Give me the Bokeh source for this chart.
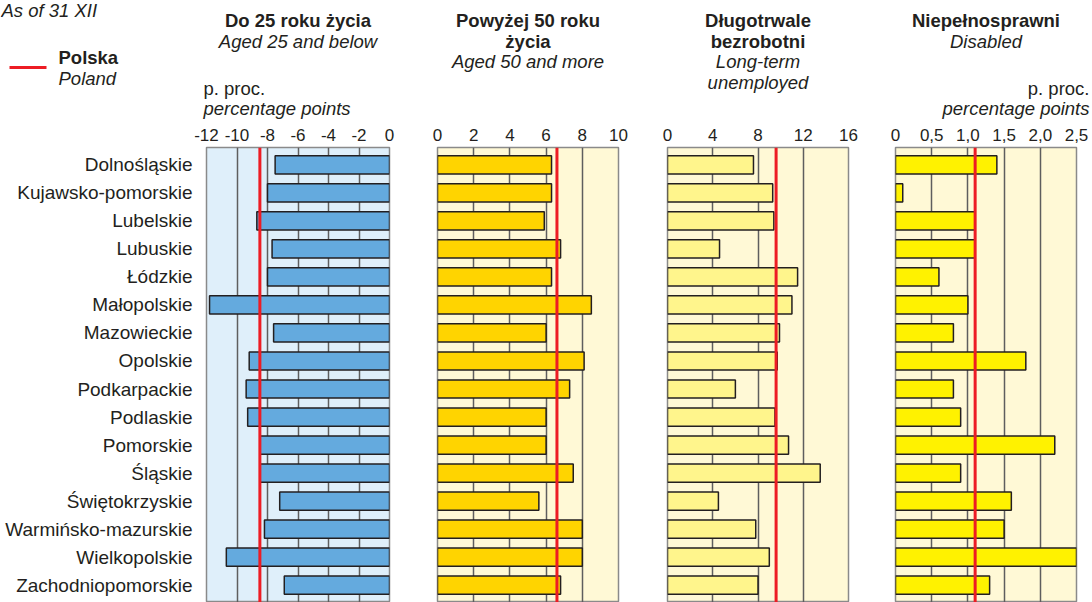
from bokeh.plotting import figure
from bokeh.models import Range1d, FactorRange, FixedTicker, Span, Label
from bokeh.layouts import row, column
from bokeh.embed import file_html
from bokeh.resources import INLINE

# ---------------- data ----------------
regions = ["Dolnośląskie", "Kujawsko-pomorskie", "Lubelskie", "Lubuskie", "Łódzkie",
           "Małopolskie", "Mazowieckie", "Opolskie", "Podkarpackie", "Podlaskie",
           "Pomorskie", "Śląskie", "Świętokrzyskie", "Warmińsko-mazurskie",
           "Wielkopolskie", "Zachodniopomorskie"]
aged_25_below = [-7.5, -8.0, -8.7, -7.7, -8.0, -11.8, -7.6, -9.2, -9.4, -9.3,
                 -8.5, -8.5, -7.2, -8.2, -10.7, -6.9]
aged_50_more = [6.3, 6.3, 5.9, 6.8, 6.3, 8.5, 6.0, 8.1, 7.3, 6.0,
                6.0, 7.5, 5.6, 8.0, 8.0, 6.8]
long_term = [7.6, 9.3, 9.4, 4.6, 11.5, 11.0, 9.9, 9.7, 6.0, 9.5,
             10.7, 13.5, 4.5, 7.8, 9.0, 8.0]
disabled = [1.4, 0.1, 1.1, 1.1, 0.6, 1.0, 0.8, 1.8, 0.8, 0.9,
            2.2, 0.9, 1.6, 1.5, 2.5, 1.3]
poland = [-8.5, 6.6, 9.6, 1.1]

ticks_1 = [-12, -10, -8, -6, -4, -2, 0]
tick_labels_1 = ["-12", "-10", "-8", "-6", "-4", "-2", "0"]
ticks_2 = [0, 2, 4, 6, 8, 10]
tick_labels_2 = ["0", "2", "4", "6", "8", "10"]
ticks_3 = [0, 4, 8, 12, 16]
tick_labels_3 = ["0", "4", "8", "12", "16"]
ticks_4 = [0, 0.5, 1.0, 1.5, 2.0, 2.5]
tick_labels_4 = ["0", "0,5", "1,0", "1,5", "2,0", "2,5"]

titles_bold = [["Do 25 roku życia"], ["Powyżej 50 roku", "życia"],
               ["Długotrwale", "bezrobotni"], ["Niepełnosprawni"]]
titles_italic = [["Aged 25 and below"], ["Aged 50 and more"],
                 ["Long-term", "unemployed"], ["Disabled"]]

# ---------------- style / geometry ----------------
FONT = "Liberation Sans"
INK = "#231f20"
RED = "#ed1c24"
HEADER_H = 120
FRAME_TOP = 147
FRAME_H = 455
LINE = 20.7
TEXT_SIZE = "18.5px"

# (figure left on page, border left, frame width, border right)
geo = [(0, 206, 183, 24), (413, 24, 181, 24), (642, 25, 181, 24), (872, 23, 181, 16)]


def make_panel(xr, ticks, labels, bg, with_labels, g):
    _, bl, fw, br = g
    p = figure(
        y_range=FactorRange(factors=list(reversed(regions)), range_padding=0.12,
                            range_padding_units="absolute"),
        x_range=Range1d(*xr),
        frame_width=fw, frame_height=FRAME_H,
        min_border_left=bl, min_border_right=br,
        min_border_top=FRAME_TOP - HEADER_H, min_border_bottom=0,
        x_axis_location="above",
        y_axis_location="left" if with_labels else None,
        output_backend="svg", toolbar_location=None,
        background_fill_color=bg, border_fill_color="white",
    )
    p.outline_line_color = "#8a8a8a"
    p.outline_line_width = 1.5
    ax = p.xaxis[0]
    ax.ticker = FixedTicker(ticks=ticks)
    ax.major_label_overrides = dict(zip(ticks, labels))
    ax.axis_line_color = None
    ax.major_tick_line_color = None
    ax.minor_tick_line_color = None
    ax.major_tick_out = 0
    ax.major_tick_in = 0
    ax.major_label_standoff = 7
    ax.major_label_text_font = FONT
    ax.major_label_text_font_size = "17px"
    ax.major_label_text_color = INK
    p.xgrid.ticker = FixedTicker(ticks=ticks)
    p.xgrid.grid_line_color = "#5e5e5e"
    p.xgrid.grid_line_width = 1.5
    p.ygrid.visible = False
    if with_labels:
        ya = p.yaxis[0]
        ya.axis_line_color = None
        ya.major_tick_line_color = None
        ya.major_tick_out = 0
        ya.major_tick_in = 0
        ya.major_label_standoff = 14
        ya.major_label_text_font = FONT
        ya.major_label_text_font_size = "19px"
        ya.major_label_text_color = INK
    return p


def make_header(g):
    left, bl, fw, br = g
    w = bl + fw + br
    h = figure(width=w, height=HEADER_H, x_range=Range1d(left, left + w),
               y_range=Range1d(HEADER_H, 0), min_border=0,
               x_axis_location=None, y_axis_location=None,
               output_backend="svg", toolbar_location=None,
               background_fill_color="white", border_fill_color="white")
    h.outline_line_color = None
    h.xgrid.visible = False
    h.ygrid.visible = False
    return h


def add_text(h, px, py, text, style="normal", align="left", size=TEXT_SIZE):
    h.add_layout(Label(
        x=px, y=py, text=text, text_font=FONT, text_font_size=size,
        text_font_style=style, text_color=INK, text_align=align,
        text_baseline="middle"))


p1 = make_panel((-12, 0), ticks_1, tick_labels_1, "#dfeffa", True, geo[0])
p1.hbar(y=regions, left=aged_25_below, right=0, height=0.65,
        fill_color="#64aade", line_color=INK, line_width=1.5)

p2 = make_panel((0, 10), ticks_2, tick_labels_2, "#fff9d6", False, geo[1])
p2.hbar(y=regions, left=0, right=aged_50_more, height=0.65,
        fill_color="#ffd400", line_color=INK, line_width=1.5)

p3 = make_panel((0, 16), ticks_3, tick_labels_3, "#fff9d6", False, geo[2])
p3.hbar(y=regions, left=0, right=long_term, height=0.65,
        fill_color="#fff58c", line_color=INK, line_width=1.5)

p4 = make_panel((0, 2.5), ticks_4, tick_labels_4, "#fff9d6", False, geo[3])
p4.hbar(y=regions, left=0, right=disabled, height=0.65,
        fill_color="#fff200", line_color=INK, line_width=1.5)

panels = [p1, p2, p3, p4]
for p, val in zip(panels, poland):
    p.add_layout(Span(location=val, dimension="height", line_color=RED, line_width=3))

headers = [make_header(g) for g in geo]

# titles centred above each panel
for h, g, tb, ti in zip(headers, geo, titles_bold, titles_italic):
    left, bl, fw, br = g
    cx = left + bl + fw / 2
    y = 20
    for t in tb:
        add_text(h, cx, y, t, "bold", "center")
        y += LINE
    for t in ti:
        add_text(h, cx, y, t, "italic", "center")
        y += LINE

h1, h4 = headers[0], headers[3]
# units
add_text(h1, 203, 88, "p. proc.")
add_text(h1, 203, 108, "percentage points", "italic")
add_text(h4, 1089, 88, "p. proc.", align="right")
add_text(h4, 1089, 108, "percentage points", "italic", align="right")

# top-left note and legend
add_text(h1, 1, 10, "As of 31 XII", "italic")
h1.segment(x0=[9], y0=[67], x1=[46], y1=[67], line_color=RED, line_width=3)
add_text(h1, 58, 57, "Polska", "bold")
add_text(h1, 58, 78, "Poland", "italic")

layout = column(row(*headers), row(*panels))
open("out.html", "w").write(file_html(layout, INLINE))
